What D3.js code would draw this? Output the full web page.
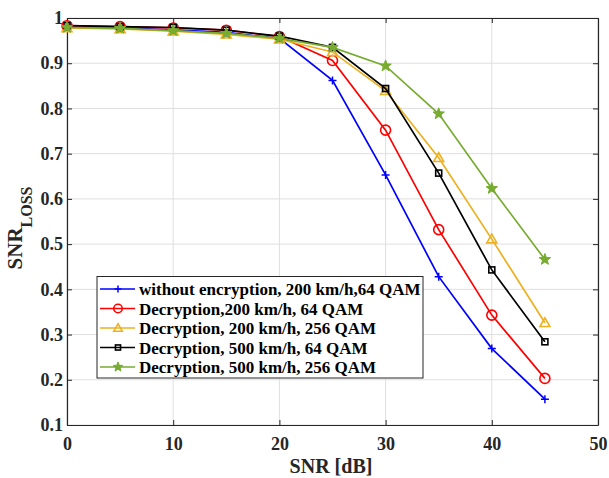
<!DOCTYPE html>
<html><head><meta charset="utf-8">
<script src="https://cdn.jsdelivr.net/npm/d3@7"></script>
<style>body{margin:0;background:#fff}svg{display:block}text{font-family:"Liberation Serif","Times New Roman",serif;font-weight:bold}</style>
</head><body><svg id="c" width="609" height="478"></svg>
<script>
const snr = [0,5,10,15,20,25,30,35,40,45];
const noEnc200_64 = [0.980,0.978,0.974,0.968,0.955,0.862,0.653,0.428,0.269,0.157];
const dec200_64 = [0.983,0.981,0.978,0.973,0.959,0.906,0.752,0.532,0.343,0.203];
const dec200_256 = [0.978,0.976,0.971,0.964,0.953,0.925,0.839,0.691,0.511,0.326];
const dec500_64 = [0.983,0.981,0.979,0.973,0.960,0.935,0.844,0.657,0.443,0.284];
const dec500_256 = [0.979,0.977,0.972,0.966,0.955,0.935,0.894,0.788,0.623,0.466];
const labels = ["without encryption, 200 km/h,64 QAM","Decryption,200 km/h, 64 QAM","Decryption, 200 km/h, 256 QAM","Decryption, 500 km/h, 64 QAM","Decryption, 500 km/h, 256 QAM"];
const colors = ["#0000ff","#ff0000","#EDB120","#000000","#77AC30"];
const markers = ["plus","circle","triangle","square","star"];
const xTicks = [0,10,20,30,40,50];
const yTicks = [0.1,0.2,0.3,0.4,0.5,0.6,0.7,0.8,0.9,1];
const series = [noEnc200_64, dec200_64, dec200_256, dec500_64, dec500_256];

const svg = d3.select("#c");
const L=67,R=598,T=18,B=425;
const x = d3.scaleLinear().domain([0,50]).range([L,R]);
const y = d3.scaleLinear().domain([0.1,1]).range([B,T]);

// grid
svg.append("g").selectAll("line").data(xTicks).join("line")
  .attr("x1",d=>x(d)).attr("x2",d=>x(d)).attr("y1",T).attr("y2",B)
  .attr("stroke","#dfdfdf").attr("stroke-width",1);
svg.append("g").selectAll("line").data(yTicks).join("line")
  .attr("y1",d=>y(d)).attr("y2",d=>y(d)).attr("x1",L).attr("x2",R)
  .attr("stroke","#dfdfdf").attr("stroke-width",1);

// axes
const fmt = d=> d===1?"1":d3.format(".1f")(d);
const ax = svg.append("g").attr("transform",`translate(0,${B})`).call(d3.axisBottom(x).tickValues(xTicks).tickSizeInner(-5).tickSizeOuter(0).tickPadding(12));
const axT = svg.append("g").attr("transform",`translate(0,${T})`).call(d3.axisTop(x).tickValues(xTicks).tickSizeInner(-5).tickSizeOuter(0).tickFormat(""));
const ay = svg.append("g").attr("transform",`translate(${L},0)`).call(d3.axisLeft(y).tickValues(yTicks).tickFormat(fmt).tickSizeInner(-5).tickSizeOuter(0).tickPadding(4));
const ayR = svg.append("g").attr("transform",`translate(${R},0)`).call(d3.axisRight(y).tickValues(yTicks).tickSizeInner(-5).tickSizeOuter(0).tickFormat(""));
[ax,axT,ay,ayR].forEach(g=>{
  g.selectAll("path").attr("stroke","#262626").attr("stroke-width",1.2);
  g.selectAll("line").attr("stroke","#262626");
  g.selectAll("text").attr("font-size",18).attr("fill","#262626")
    .style("font-family","'Liberation Serif',serif").style("font-weight","bold");
});

const line = d3.line().x((d,i)=>x(snr[i])).y(d=>y(d));

function drawMarker(g, type, cx, cy, color, scale){
  scale = scale||1;
  if(type==="plus"){
    const s=4*scale;
    g.append("path").attr("d",`M${cx-s},${cy}H${cx+s}M${cx},${cy-s}V${cy+s}`).attr("stroke",color).attr("stroke-width",1.5).attr("fill","none");
  } else if(type==="circle"){
    g.append("circle").attr("cx",cx).attr("cy",cy).attr("r",5*scale).attr("stroke",color).attr("stroke-width",1.6).attr("fill","none");
  } else if(type==="triangle"){
    const s=5*scale;
    g.append("path").attr("d",`M${cx},${cy-s}L${cx+s},${cy+s*0.75}L${cx-s},${cy+s*0.75}Z`).attr("stroke",color).attr("stroke-width",1.6).attr("fill","none");
  } else if(type==="square"){
    const s=3*scale;
    g.append("rect").attr("x",cx-s).attr("y",cy-s).attr("width",2*s).attr("height",2*s).attr("stroke",color).attr("stroke-width",1.6).attr("fill","none");
  } else if(type==="star"){
    const pts=[];const ro=6*scale, ri=2.5*scale;
    for(let k=0;k<10;k++){const a=-Math.PI/2+k*Math.PI/5;const r=k%2?ri:ro;pts.push([cx+r*Math.cos(a),cy+r*Math.sin(a)]);}
    g.append("path").attr("d","M"+pts.map(p=>p.join(",")).join("L")+"Z").attr("fill",color).attr("stroke",color).attr("stroke-width",1);
  }
}

series.forEach((s,k)=>{
  const g = svg.append("g");
  g.append("path").datum(s).attr("d",line).attr("fill","none").attr("stroke",colors[k]).attr("stroke-width",1.7);
  s.forEach((v,i)=>drawMarker(g,markers[k],x(snr[i]),y(v),colors[k]));
});

// legend
const lg = svg.append("g");
lg.append("rect").attr("x",97).attr("y",276.5).attr("width",326).attr("height",101.5).attr("fill","#fff").attr("stroke","#262626").attr("stroke-width",1);
labels.forEach((t,k)=>{
  const yy = 289 + k*19.5;
  lg.append("line").attr("x1",100).attr("x2",135).attr("y1",yy).attr("y2",yy).attr("stroke",colors[k]).attr("stroke-width",1.7);
  drawMarker(lg,markers[k],118,yy,colors[k],0.85);
  lg.append("text").attr("x",139).attr("y",yy+6).attr("font-size",17).attr("fill","#000").text(t);
});

// axis labels
svg.append("text").attr("x",331).attr("y",473).attr("text-anchor","middle").attr("font-size",20).attr("fill","#262626").text("SNR [dB]");
const yl = svg.append("text").attr("transform","translate(22,228) rotate(-90)").attr("text-anchor","middle").attr("font-size",21).attr("fill","#262626");
yl.append("tspan").text("SNR");
yl.append("tspan").attr("dy",10).attr("font-size",16).text("LOSS");
</script></body></html>
